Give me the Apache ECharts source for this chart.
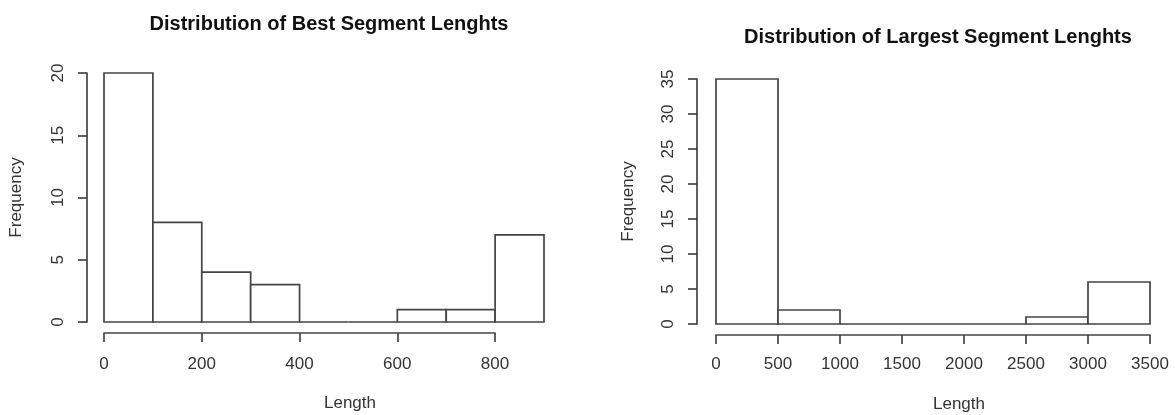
<!DOCTYPE html>
<html>
<head>
<meta charset="utf-8">
<script src="https://cdn.jsdelivr.net/npm/echarts@6/dist/echarts.min.js"></script>
<style>
html,body{margin:0;padding:0;background:#fff;}
#chart{width:1175px;height:415px;}
</style>
</head>
<body>
<div id="chart"></div>
<script>
// Data
const bestBreaks = [0, 100, 200, 300, 400, 500, 600, 700, 800, 900];
const bestCounts = [20, 8, 4, 3, 0, 0, 1, 1, 7];
const largestBreaks = [0, 500, 1000, 1500, 2000, 2500, 3000, 3500];
const largestCounts = [35, 2, 0, 0, 0, 1, 6];
const titles = ['Distribution of Best Segment Lenghts', 'Distribution of Largest Segment Lenghts'];
const xName = 'Length';
const yName = 'Frequency';

const FONT = '"Liberation Sans", Arial, sans-serif';
const LINE = '#444';
const LABEL = '#333';

function binsData(breaks, counts) {
  return counts.map((c, i) => [breaks[i], breaks[i + 1], c]);
}

function renderBin(params, api) {
  const p0 = api.coord([api.value(0), api.value(2)]);
  const p1 = api.coord([api.value(1), 0]);
  return {
    type: 'rect',
    shape: { x: p0[0], y: p0[1], width: p1[0] - p0[0], height: p1[1] - p0[1] },
    style: { fill: '#fff', stroke: LINE, lineWidth: 1.7 }
  };
}

const axisLineStyle = { show: true, onZero: false, lineStyle: { color: LINE, width: 1.7 } };
const tickStyle = { show: true, length: 9, lineStyle: { color: LINE, width: 1.7 } };
const labelStyle = { color: LABEL, fontSize: 17, fontFamily: FONT, formatter: v => String(v) };

const chart = echarts.init(document.getElementById('chart'), null, { renderer: 'canvas' });
chart.setOption({
  backgroundColor: '#fff',
  animation: false,
  title: [
    { text: titles[0], left: 324, top: 9, textAlign: 'center',
      textStyle: { fontSize: 20, fontWeight: 'bold', color: '#111', fontFamily: FONT } },
    { text: titles[1], left: 933, top: 22, textAlign: 'center',
      textStyle: { fontSize: 20, fontWeight: 'bold', color: '#111', fontFamily: FONT } }
  ],
  grid: [
    { left: 104, top: 73, width: 440, height: 249 },
    { left: 104, top: 73, width: 391, height: 249 },
    { left: 716, top: 79, width: 434, height: 245 }
  ],
  xAxis: [
    { gridIndex: 0, type: 'value', min: 0, max: 900, show: false },
    { gridIndex: 1, type: 'value', min: 0, max: 800, interval: 200, offset: 11,
      axisLine: axisLineStyle, axisTick: tickStyle, splitLine: { show: false },
      axisLabel: Object.assign({ margin: 23 }, labelStyle) },
    { gridIndex: 2, type: 'value', min: 0, max: 3500, interval: 500, offset: 11,
      axisLine: axisLineStyle, axisTick: tickStyle, splitLine: { show: false },
      axisLabel: Object.assign({ margin: 21 }, labelStyle) }
  ],
  yAxis: [
    { gridIndex: 0, type: 'value', min: 0, max: 20, interval: 5, offset: 17,
      axisLine: axisLineStyle, axisTick: tickStyle, splitLine: { show: false },
      axisLabel: Object.assign({ rotate: 90, margin: 20 }, labelStyle),
      name: yName, nameLocation: 'middle', nameGap: 62, nameRotate: 90,
      nameTextStyle: { color: LABEL, fontSize: 17, fontFamily: FONT } },
    { gridIndex: 1, type: 'value', min: 0, max: 20, show: false },
    { gridIndex: 2, type: 'value', min: 0, max: 35, interval: 5, offset: 19,
      axisLine: axisLineStyle, axisTick: tickStyle, splitLine: { show: false },
      axisLabel: Object.assign({ rotate: 90, margin: 20 }, labelStyle),
      name: yName, nameLocation: 'middle', nameGap: 60, nameRotate: 90,
      nameTextStyle: { color: LABEL, fontSize: 17, fontFamily: FONT } }
  ],
  graphic: [
    { type: 'text', left: 324, top: 395, style: { text: xName, fill: LABEL, fontSize: 17, fontFamily: FONT, textAlign: 'center' } },
    { type: 'text', left: 933, top: 396, style: { text: xName, fill: LABEL, fontSize: 17, fontFamily: FONT, textAlign: 'center' } }
  ],
  series: [
    { type: 'custom', xAxisIndex: 0, yAxisIndex: 0, renderItem: renderBin,
      data: binsData(bestBreaks, bestCounts), encode: { x: [0, 1], y: 2 } },
    { type: 'custom', xAxisIndex: 2, yAxisIndex: 2, renderItem: renderBin,
      data: binsData(largestBreaks, largestCounts), encode: { x: [0, 1], y: 2 } }
  ]
});
</script>
</body>
</html>
